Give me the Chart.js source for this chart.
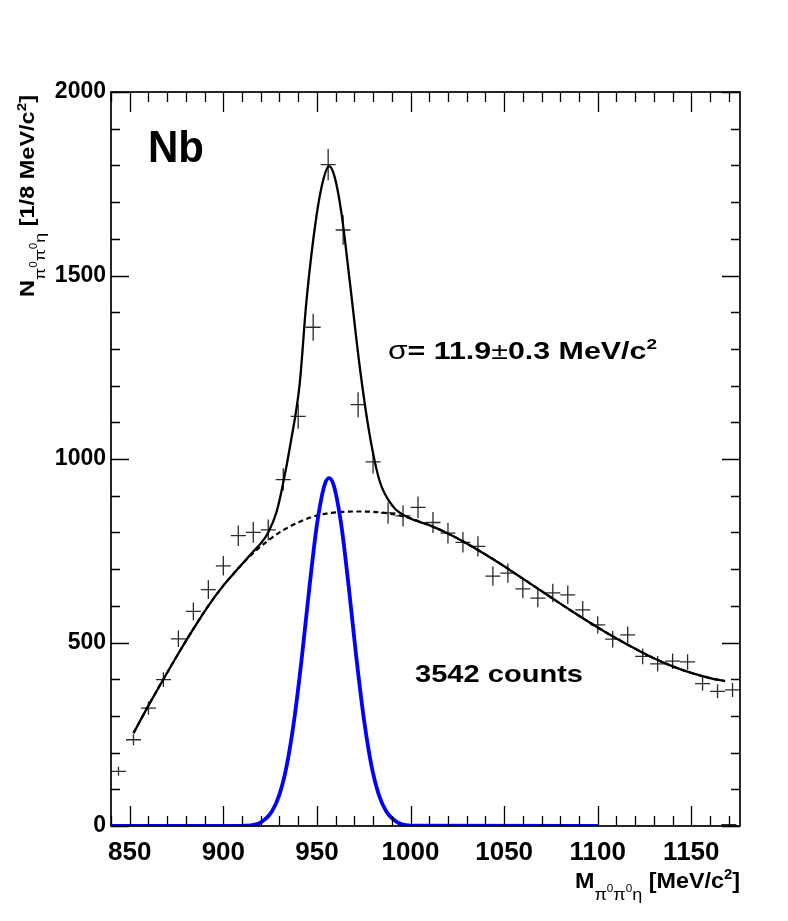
<!DOCTYPE html>
<html>
<head>
<meta charset="utf-8">
<script src="https://cdn.jsdelivr.net/npm/chart.js@4.4.1/dist/chart.umd.min.js"></script>
<style>
  html, body { margin: 0; padding: 0; background: #fff; }
  #wrap { width: 788px; height: 921px; }
</style>
</head>
<body>
<div id="wrap"><canvas id="c" width="788" height="921"></canvas></div>
<script>
// ---------------- data ----------------
const binCenters = [844, 852, 860, 868, 876, 884, 892, 900, 908, 916, 924, 932, 940, 948, 956, 964, 972, 980, 988, 996,
                    1004, 1012, 1020, 1028, 1036, 1044, 1052, 1060, 1068, 1076, 1084, 1092, 1100, 1108, 1116, 1124, 1132,
                    1140, 1148, 1156, 1164, 1172];
const counts = [149, 235, 321, 399, 510, 585, 644, 709, 791, 800, 807, 944, 1116, 1359, 1802, 1624, 1148, 992, 853, 845,
                868, 827, 798, 773, 762, 681, 689, 646, 621, 635, 630, 589, 548, 509, 521, 462, 442,
                449, 447, 388, 367, 371];
const countErrors = [12.2, 15.3, 17.9, 20.0, 22.6, 24.2, 25.4, 26.6, 28.1, 28.3, 28.4, 30.7, 33.4, 36.9, 42.4, 40.3, 33.9, 31.5, 29.2, 29.1,
                     29.5, 28.8, 28.2, 27.8, 27.6, 26.1, 26.2, 25.4, 24.9, 25.2, 25.1, 24.3, 23.4, 22.6, 22.8, 21.5, 21.0,
                     21.2, 21.1, 19.7, 19.2, 19.3];
const binHalfWidth = 4;          // 1/8 MeV bins
const edgeBinX = [1170];         // lone near-empty bin at the right edge
const edgeBinY = [4];

// total fit (signal + background)
const fitX = [852, 860, 868, 876, 884, 892, 900, 908, 916, 920, 924, 928.4, 931.6, 936, 940.8, 944.4, 949.7, 953.6, 956.5,
              959.5, 963.1, 967.5, 972.9, 978.2, 983.5, 990.6, 1000, 1010, 1020, 1030, 1040, 1050, 1060, 1070, 1080,
              1090, 1100, 1110, 1120, 1130, 1140, 1150, 1160, 1168];
const fitY = [253, 328, 400, 470, 537, 600, 655, 702, 748, 770, 800, 855, 925, 1045, 1205, 1430, 1660, 1765, 1798,
              1768, 1670, 1486, 1250, 1065, 940, 871, 838, 820, 797, 770, 740, 708, 674, 640, 606,
              573, 541, 511, 483, 457, 435, 417, 403, 395];
// background (dashed)
const bgX = [852, 860, 868, 876, 884, 892, 900, 908, 916, 924, 932, 940, 948, 956, 964, 972, 980, 988, 996, 1000,
             1010, 1020, 1030, 1040, 1050, 1060, 1070, 1080, 1090, 1100, 1110, 1120, 1130, 1140, 1150, 1160, 1168];
const bgY = [253, 328, 400, 470, 537, 600, 655, 702, 744, 778, 806, 827, 843, 852, 856, 857, 856, 852, 844, 838,
             820, 797, 770, 740, 708, 674, 640, 606, 573, 541, 511, 483, 457, 435, 417, 403, 395];
// signal (blue)
const sigX = [840, 900, 912, 920, 926, 930, 934, 938, 942, 946, 950, 954, 956.5, 959, 963, 967, 971, 975, 979, 983, 987,
              993, 1001, 1100];
const sigY = [0, 0, 1, 10, 40, 86, 168, 295, 462, 651, 821, 928, 948, 928, 821, 651, 462, 295, 168, 86, 40,
              10, 1, 0];

const xTickLabels = [850, 900, 950, 1000, 1050, 1100, 1150];
const yTickLabels = [0, 500, 1000, 1500, 2000];
const xRange = [840, 1176];
const yRange = [0, 2000];

// ---------------- helpers ----------------
const FONT = "'Liberation Sans', Arial, Helvetica, sans-serif";
const pts = (xs, ys) => xs.map((x, i) => ({ x: x, y: ys[i] }));

function drawPieces(ctx, pieces, x, y, targetW) {
  let w = 0;
  pieces.forEach(p => {
    ctx.font = (p.weight || 'bold') + ' ' + p.size + 'px ' + FONT;
    p.w = ctx.measureText(p.t).width;
    w += p.w;
  });
  const sx = targetW ? targetW / w : 1;
  ctx.save();
  ctx.translate(x, y);
  ctx.scale(sx, 1);
  ctx.fillStyle = '#000';
  ctx.textBaseline = 'alphabetic';
  ctx.textAlign = 'left';
  let cx = 0;
  pieces.forEach(p => {
    ctx.font = (p.weight || 'bold') + ' ' + p.size + 'px ' + FONT;
    ctx.fillText(p.t, cx, p.dy || 0);
    cx += p.w;
  });
  ctx.restore();
}

// error-bar crosses for the histogram
const crossPlugin = {
  id: 'crosses',
  beforeDatasetsDraw(chart) {
    const { ctx, scales: { x, y }, chartArea: a } = chart;
    ctx.save();
    ctx.beginPath();
    ctx.rect(a.left, a.top, a.right - a.left, a.bottom - a.top);
    ctx.clip();
    ctx.strokeStyle = '#2a2a2a';
    ctx.lineWidth = 1.3;
    ctx.beginPath();
    binCenters.forEach((c, i) => {
      const px = x.getPixelForValue(c);
      const py = y.getPixelForValue(counts[i]);
      ctx.moveTo(x.getPixelForValue(c - binHalfWidth), py);
      ctx.lineTo(x.getPixelForValue(c + binHalfWidth), py);
      ctx.moveTo(px, y.getPixelForValue(counts[i] - countErrors[i]));
      ctx.lineTo(px, y.getPixelForValue(counts[i] + countErrors[i]));
    });
    edgeBinX.forEach((c, i) => {
      const py = y.getPixelForValue(edgeBinY[i]);
      ctx.moveTo(x.getPixelForValue(c - binHalfWidth), py);
      ctx.lineTo(x.getPixelForValue(c + binHalfWidth), py);
    });
    ctx.stroke();
    ctx.restore();
  }
};

// ROOT-style frame with inward ticks on all four sides, plus texts
const framePlugin = {
  id: 'frame',
  afterDraw(chart) {
    const { ctx, scales: { x, y }, chartArea: a } = chart;
    ctx.save();
    ctx.strokeStyle = '#000';
    ctx.lineWidth = 1.3;
    ctx.beginPath();
    for (let v = Math.ceil(xRange[0] / 10) * 10; v <= xRange[1]; v += 10) {
      const px = Math.round(x.getPixelForValue(v)) + 0.5;
      const len = (v % 50 === 0) ? 20 : 10;
      ctx.moveTo(px, a.bottom); ctx.lineTo(px, a.bottom - len);
      ctx.moveTo(px, a.top); ctx.lineTo(px, a.top + len);
    }
    for (let v = yRange[0]; v <= yRange[1]; v += 100) {
      const py = Math.round(y.getPixelForValue(v)) + 0.5;
      const len = (v % 500 === 0) ? 18 : 9;
      ctx.moveTo(a.left, py); ctx.lineTo(a.left + len, py);
      ctx.moveTo(a.right, py); ctx.lineTo(a.right - len, py);
    }
    ctx.stroke();
    ctx.lineWidth = 1.7;
    ctx.strokeRect(a.left, a.top, a.right - a.left, a.bottom - a.top);
    ctx.restore();

    // annotations
    drawPieces(ctx, [{ t: 'Nb', size: 44 }], 148, 162, 56);
    drawPieces(ctx, [
      { t: 'σ', size: 25, weight: 'normal' },
      { t: '= 11.9', size: 24 },
      { t: '±', size: 24, weight: 'normal' },
      { t: '0.3 MeV/c', size: 24 },
      { t: '2', size: 15, dy: -10 }
    ], 388, 359, 269);
    drawPieces(ctx, [{ t: '3542 counts', size: 24 }], 415, 682, 168);

    // axis titles
    drawPieces(ctx, [
      { t: 'M', size: 22 },
      { t: 'π', size: 17, weight: 'normal', dy: 12 },
      { t: '0', size: 11, weight: 'normal', dy: 4 },
      { t: 'π', size: 17, weight: 'normal', dy: 12 },
      { t: '0', size: 11, weight: 'normal', dy: 4 },
      { t: 'η', size: 17, weight: 'normal', dy: 12 },
      { t: ' [MeV/c', size: 22 },
      { t: '2', size: 14, dy: -9 },
      { t: ']', size: 22 }
    ], 575, 888, 165);

    ctx.save();
    ctx.translate(34, 297);
    ctx.rotate(-Math.PI / 2);
    drawPieces(ctx, [
      { t: 'N', size: 20 },
      { t: 'π', size: 15, weight: 'normal', dy: 11 },
      { t: '0', size: 10, weight: 'normal', dy: 3 },
      { t: 'π', size: 15, weight: 'normal', dy: 11 },
      { t: '0', size: 10, weight: 'normal', dy: 3 },
      { t: 'η', size: 15, weight: 'normal', dy: 11 },
      { t: ' [1/8 MeV/c', size: 20 },
      { t: '2', size: 13, dy: -8 },
      { t: ']', size: 20 }
    ], 0, 0, 202);
    ctx.restore();
  }
};

new Chart(document.getElementById('c'), {
  type: 'scatter',
  data: {
    datasets: [
      {
        label: 'Signal', data: pts(sigX, sigY), showLine: true,
        borderColor: '#0000ff', borderWidth: 3.8, pointRadius: 0,
        cubicInterpolationMode: 'monotone', order: 0
      },
      {
        label: 'Total fit', data: pts(fitX, fitY), showLine: true,
        borderColor: '#000', borderWidth: 2.3, pointRadius: 0,
        cubicInterpolationMode: 'monotone', order: 1
      },
      {
        label: 'Background', data: pts(bgX, bgY), showLine: true,
        borderColor: '#000', borderWidth: 2.2, borderDash: [5, 3.5], pointRadius: 0,
        cubicInterpolationMode: 'monotone', order: 2
      },
      {
        label: 'Data', data: pts(binCenters, counts), showLine: false,
        pointRadius: 0, order: 3
      }
    ]
  },
  options: {
    responsive: false,
    animation: false,
    devicePixelRatio: 1,
    layout: { padding: { top: 92, right: 48, left: 0, bottom: 0 } },
    plugins: { legend: { display: false }, tooltip: { enabled: false }, title: { display: false } },
    scales: {
      x: {
        type: 'linear', min: xRange[0], max: xRange[1],
        afterBuildTicks: s => { s.ticks = xTickLabels.map(v => ({ value: v })); },
        afterFit: s => { s.height = 95; },
        grid: { display: false, drawTicks: false },
        border: { display: false },
        ticks: {
          autoSkip: false, maxRotation: 0, padding: 11, color: '#000',
          font: { family: FONT, weight: 'bold', size: 26 },
          callback: v => String(v)
        }
      },
      y: {
        type: 'linear', min: yRange[0], max: yRange[1],
        afterBuildTicks: s => { s.ticks = yTickLabels.map(v => ({ value: v })); },
        afterFit: s => { s.width = 111; },
        grid: { display: false, drawTicks: false },
        border: { display: false },
        ticks: {
          autoSkip: false, padding: 5, color: '#000',
          font: { family: FONT, weight: 'bold', size: 23 },
          callback: v => String(v)
        }
      }
    }
  },
  plugins: [crossPlugin, framePlugin]
});
</script>
</body>
</html>
